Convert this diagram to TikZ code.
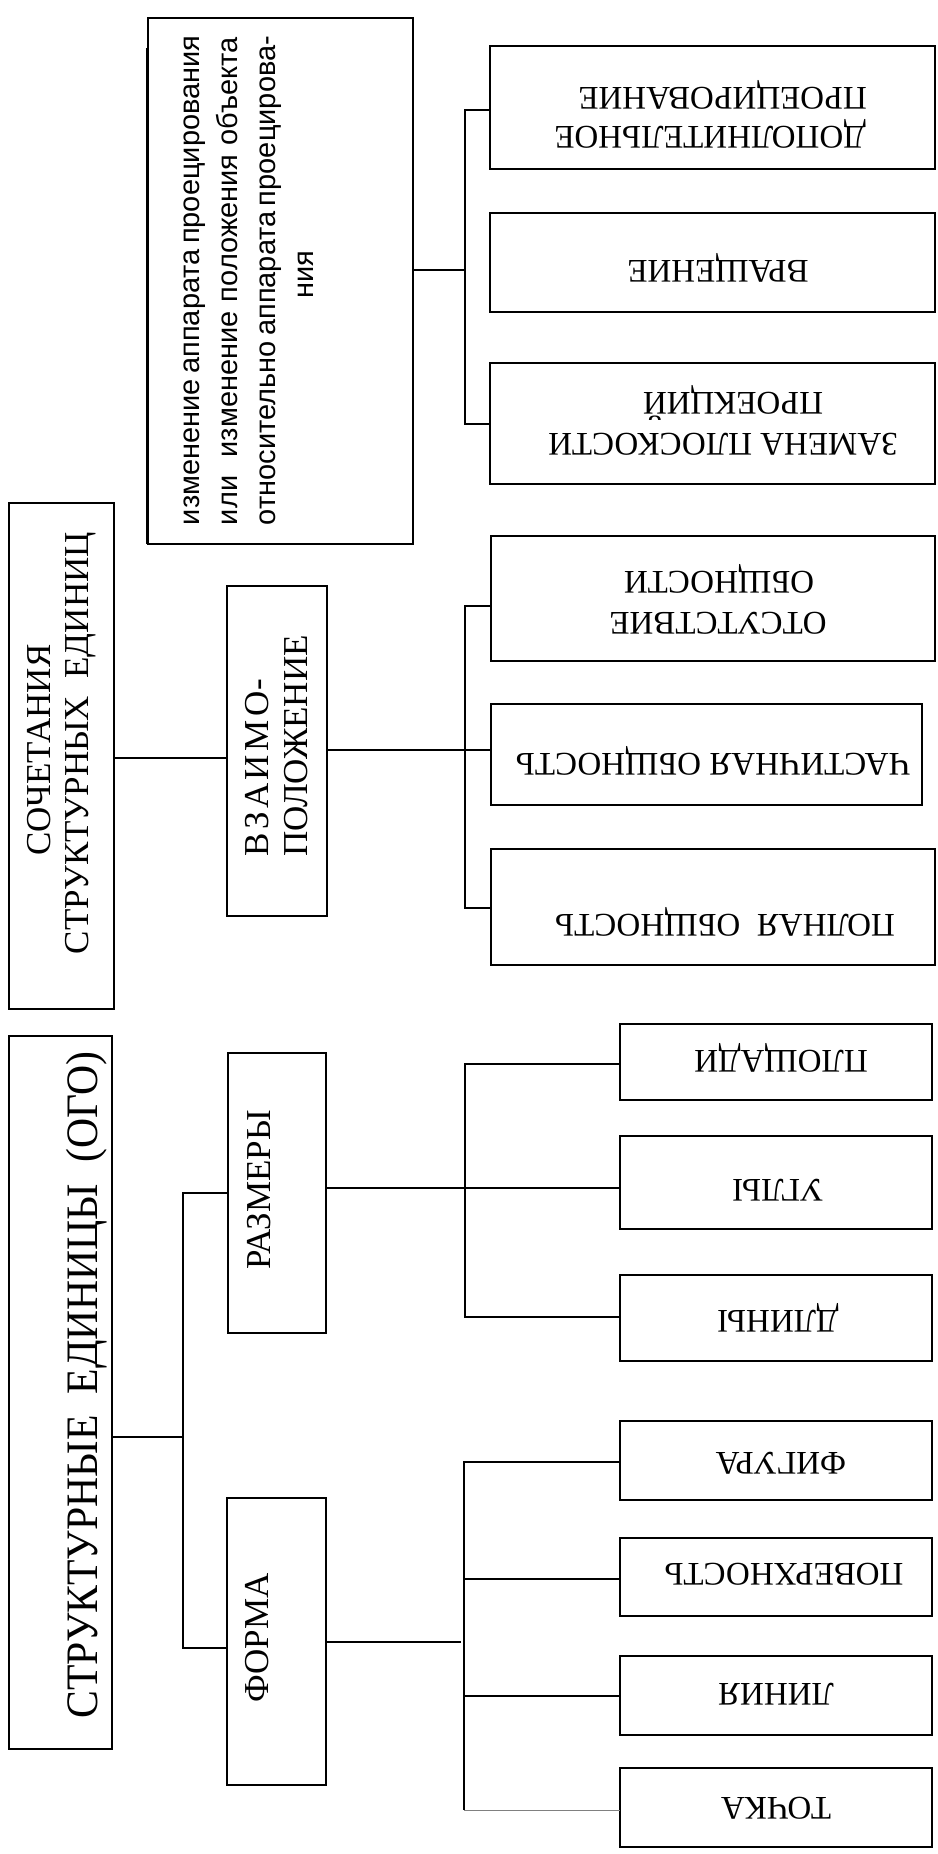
\documentclass[tikz,border=0pt]{standalone}
\usepackage{fontspec}
\setmainfont{Liberation Serif}
\newfontfamily\izmfont{Liberation Sans}
\newcommand\mkbox[5]{\node[box, minimum width={#4pt-#2pt}, minimum height={#5pt-#3pt}] (#1) at ({(#2+#4)/2},{(#3+#5)/2}) {};}
\tikzset{
  box/.style={draw, line width=1.8pt, inner sep=0pt, outer sep=0pt},
  conn/.style={line width=1.6pt},
  up/.style={rotate=90, inner sep=0pt, anchor=base},
  flip/.style={rotate=180, inner sep=0pt, anchor=base, font=\fontsize{33}{38}\selectfont},
  big/.style={font=\fontsize{45}{50}\selectfont},
  mid/.style={font=\fontsize{35}{40}\selectfont},
  sans/.style={font=\izmfont\fontsize{29}{34}\selectfont},
}
\begin{document}
\begin{tikzpicture}[x=1pt,y=-1pt]
\useasboundingbox[fill=white] (0,0) rectangle (937,1854);
% boxes
\mkbox{big}{9}{1036}{112}{1749}
\mkbox{soch}{9}{503}{114}{1009}
\mkbox{izm}{148}{18}{413}{544}
\mkbox{vzaimo}{227}{586}{327}{916}
\mkbox{razm}{228}{1053}{326}{1333}
\mkbox{forma}{227}{1498}{326}{1785}
\mkbox{dop}{490}{46}{935}{169}
\mkbox{vrash}{490}{213}{935}{312}
\mkbox{zamena}{490}{363}{935}{484}
\mkbox{otsut}{491}{536}{935}{661}
\mkbox{chast}{491}{704}{922}{805}
\mkbox{poln}{491}{849}{935}{965}
\mkbox{plosch}{620}{1024}{932}{1100}
\mkbox{ugly}{620}{1136}{932}{1229}
\mkbox{dliny}{620}{1275}{932}{1361}
\mkbox{figura}{620}{1421}{932}{1500}
\mkbox{poverkh}{620}{1538}{932}{1616}
\mkbox{liniya}{620}{1656}{932}{1735}
\mkbox{tochka}{620}{1768}{932}{1847}
\draw[line width=1.8pt] ([xshift=-1.5pt]izm.south west) -- ([xshift=-1.5pt]izm.west |- 0,48);
% left texts
\node[up, big] (tbig) at (97,1385) {\scalebox{0.927}[1]{СТРУКТУРНЫЕ\ \ ЕДИНИЦЫ\ \ (ОГО)}};
\node[up, mid] (tsoch1) at (50,750) {СОЧЕТАНИЯ};
\node[up, mid] (tsoch2) at (88,743) {СТРУКТУРНЫХ\ \ ЕДИНИЦ};
\node[up, mid, anchor=base west] (tvz1) at (268,857) {В\kern3.5pt З\kern3.5pt А\kern3.5pt И\kern3.5pt М\kern3.5pt О\kern1pt -};
\node[up, mid, anchor=base west] (tvz2) at (307,857) {ПОЛОЖЕНИЕ};
\node[up, mid] (trazm) at (270,1190) {РАЗМЕРЫ};
\node[up, mid] (tforma) at (268,1638) {ФОРМА};
\node[up, sans] (tizm1) at (199,281) {\makebox[488pt][s]{изменение аппарата проецирования}};
\node[up, sans] (tizm2) at (237,281) {\makebox[488pt][s]{или\ \ изменение положения объекта}};
\node[up, sans] (tizm3) at (275,281) {\makebox[488pt][s]{относительно аппарата проецирова-}};
\node[up, sans] (tizm4) at (313,275) {ния};
% right texts
\node[flip, anchor=base west] (tdop1) at (866,127) {ДОПОЛНИТЕЛЬНОЕ};
\node[flip, anchor=base west] (tdop2) at (867,88) {ПРОЕЦИРОВАНИЕ};
\node[flip] (tvrash) at (718,260) {ВРАЩЕНИЕ};
\node[flip] (tzam1) at (723,433) {ЗАМЕНА ПЛОСКОСТИ};
\node[flip] (tzam2) at (733,392) {ПРОЕКЦИЙ};
\node[flip] (tots1) at (718,612) {ОТСУТСТВИЕ};
\node[flip] (tots2) at (719,571) {ОБЩНОСТИ};
\node[flip] (tchast) at (713,753) {ЧАСТИЧНАЯ ОБЩНОСТЬ};
\node[flip] (tpoln) at (725,914) {ПОЛНАЯ\ \ ОБЩНОСТЬ};
\node[flip] (tplosch) at (781,1050) {ПЛОЩАДИ};
\node[flip] (tugly) at (778,1179) {УГЛЫ};
\node[flip] (tdliny) at (778,1310) {ДЛИНЫ};
\node[flip] (tfigura) at (781,1452) {ФИГУРА};
\node[flip] (tpoverkh) at (784,1563) {ПОВЕРХНОСТЬ};
\node[flip] (tliniya) at (776,1683) {ЛИНИЯ};
\node[flip] (ttochka) at (776,1797) {ТОЧКА};
% connectors: left tree
\coordinate (bL) at (183,1437);
\coordinate (t1) at (183,1193);
\coordinate (t2) at (183,1648);
\draw[conn] (big.east |- bL) -- (bL);
\draw[conn] (razm.west |- t1) -- (t1) -- (t2) -- (forma.west |- t2);
% group 1
\coordinate (g1a) at (465,110);
\coordinate (g1b) at (465,424);
\coordinate (g1m) at (465,270);
\draw[conn] (dop.west |- g1a) -- (g1a) -- (g1b) -- (zamena.west |- g1b);
\draw[conn] (izm.east |- g1m) -- (g1m);
% group 2
\coordinate (g2a) at (465,606);
\coordinate (g2b) at (465,908);
\coordinate (g2m) at (465,750);
\coordinate (sv) at (170,758);
\draw[conn] (otsut.west |- g2a) -- (g2a) -- (g2b) -- (poln.west |- g2b);
\draw[conn] (vzaimo.east |- g2m) -- (chast.west |- g2m);
\draw[conn] (soch.east |- sv) -- (vzaimo.west |- sv);
% group 3
\coordinate (g3a) at (465,1064);
\coordinate (g3b) at (465,1317);
\coordinate (g3m) at (465,1188);
\draw[conn] (plosch.west |- g3a) -- (g3a) -- (g3b) -- (dliny.west |- g3b);
\draw[conn] (razm.east |- g3m) -- (ugly.west |- g3m);
% group 4
\coordinate (g4a) at (464,1462);
\coordinate (g4b) at (464,1579);
\coordinate (g4c) at (464,1696);
\coordinate (g4d) at (464,1810);
\coordinate (g4m) at (461,1642);
\draw[conn] (figura.west |- g4a) -- (g4a) -- (g4d);
\draw[line width=1pt, gray] (g4d) -- (tochka.west |- g4d);
\draw[conn] (poverkh.west |- g4b) -- (g4b);
\draw[conn] (liniya.west |- g4c) -- (g4c);
\draw[conn] (forma.east |- g4m) -- (g4m);
\end{tikzpicture}
\end{document}
